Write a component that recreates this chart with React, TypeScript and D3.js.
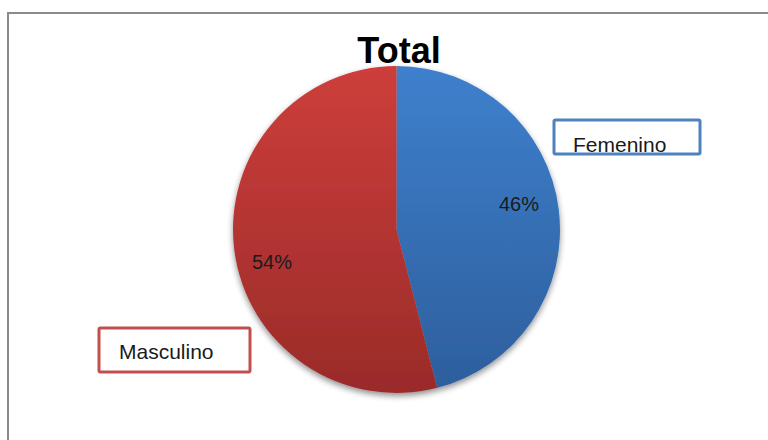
import React from "react";
import * as d3 from "d3";

const categories = ["Femenino", "Masculino"];
const values = [46, 54];
const percentLabels = ["46%", "54%"];
const title = "Total";

const W = 768;
const H = 440;
const cx = 396.5;
const cy = 229.5;
const R = 163.5;

const topColors = ["#3e80cd", "#cd3e3b"];
const bottomColors = ["#2d5e9c", "#9a2b29"];
const boxColors = ["#4f81bd", "#c0504d"];

export default function App() {
  const pie = d3.pie<number>().sort(null).value((d) => d);
  const arcs = pie(values);
  const arc = d3.arc<d3.PieArcDatum<number>>().innerRadius(0).outerRadius(R);

  const boxes = [
    { x: 554, y: 120, w: 146, h: 34, tx: 573, ty: 152 },
    { x: 99, y: 328, w: 151, h: 44, tx: 119, ty: 359 },
  ];

  return (
    <svg width={W} height={H} style={{ position: "absolute", left: 0, top: 0 }}>
      <defs>
        {arcs.map((a, i) => (
          <linearGradient
            key={i}
            id={`g${i}`}
            gradientUnits="userSpaceOnUse"
            x1={0}
            y1={-R}
            x2={0}
            y2={R}
          >
            <stop offset="0%" stopColor={topColors[i]} />
            <stop offset="100%" stopColor={bottomColors[i]} />
          </linearGradient>
        ))}
        <filter id="shadow" x="-20%" y="-20%" width="140%" height="140%">
          <feGaussianBlur in="SourceAlpha" stdDeviation="3" />
          <feOffset dx="0" dy="3" result="ob" />
          <feComponentTransfer>
            <feFuncA type="linear" slope="0.45" />
          </feComponentTransfer>
          <feMerge>
            <feMergeNode />
            <feMergeNode in="SourceGraphic" />
          </feMerge>
        </filter>
      </defs>
      <rect x={0} y={0} width={W} height={H} fill="#ffffff" />
      <rect x={8} y={13} width={W + 20} height={H + 20} fill="none" stroke="#8a8a8a" strokeWidth={2} />
      <text
        x={399}
        y={63}
        textAnchor="middle"
        fontFamily="Liberation Sans, Arial, sans-serif"
        fontWeight="bold"
        fontSize={36}
        fill="#000"
      >
        {title}
      </text>
      <g transform={`translate(${cx},${cy})`} filter="url(#shadow)">
        {arcs.map((a, i) => (
          <path key={i} d={arc(a) || ""} fill={`url(#g${i})`} />
        ))}
      </g>
      {arcs.map((a, i) => {
        const mid = (a.startAngle + a.endAngle) / 2 - (i === 0 ? 0.08 : 0.13);
        const rr = i === 0 ? R * 0.765 : R * 0.787;
        const lx = cx + Math.sin(mid) * rr;
        const ly = cy - Math.cos(mid) * rr;
        return (
          <text
            key={i}
            x={lx}
            y={ly}
            textAnchor="middle"
            dominantBaseline="central"
            fontFamily="Liberation Sans, Arial, sans-serif"
            fontSize={20}
            fill="#1a1a1a"
          >
            {percentLabels[i]}
          </text>
        );
      })}
      {boxes.map((b, i) => (
        <g key={i}>
          <text
            x={b.tx}
            y={b.ty}
            fontFamily="Liberation Sans, Arial, sans-serif"
            fontSize={21}
            fill="#1a1a1a"
          >
            {categories[i]}
          </text>
          <rect x={b.x} y={b.y} width={b.w} height={b.h} fill="none" stroke={boxColors[i]} strokeWidth={3} rx={1.5} />
        </g>
      ))}
    </svg>
  );
}
